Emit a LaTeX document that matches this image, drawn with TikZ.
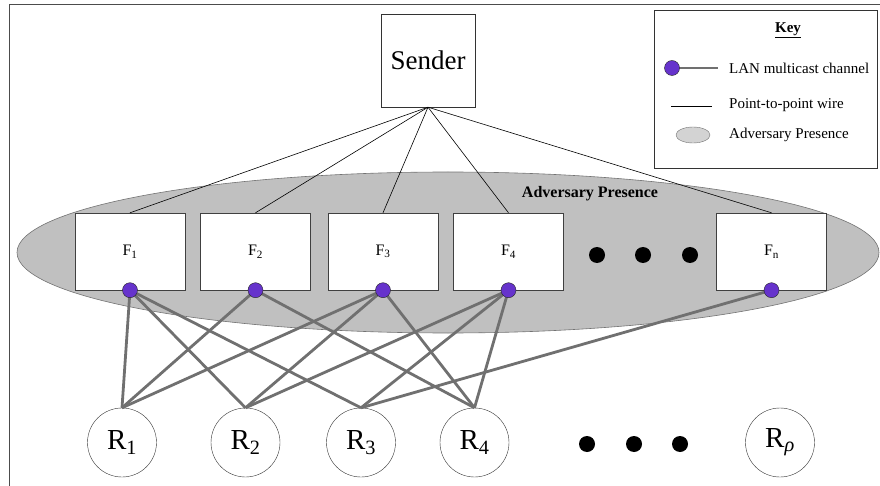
\documentclass[tikz,border=0pt]{standalone}
\usepackage{fontspec}
\setmainfont{Liberation Serif}
\usetikzlibrary{calc,shapes.geometric}
\definecolor{lanpurple}{RGB}{102,51,204}
\definecolor{advgray}{RGB}{192,192,192}
\definecolor{langray}{RGB}{112,112,112}

\begin{document}
\begin{tikzpicture}[x=1pt,y=-1pt,
    fwd/.style={draw=black!75,fill=white,minimum width=110pt,minimum height=77pt,inner sep=0pt,font=\fontsize{16}{18}\selectfont},
    rcv/.style={circle,draw=black!80,fill=white,minimum size=69pt,inner sep=0pt,font=\fontsize{29}{31}\selectfont},
    chan/.style={circle,draw=black!85,fill=lanpurple,minimum size=15pt,inner sep=0pt},
    lan/.style={draw=langray,line width=2.8pt},
    wire/.style={draw=black,line width=0.6pt},
    bigdot/.style={circle,fill=black,minimum size=16pt,inner sep=0pt},
    keytext/.style={anchor=west,inner sep=0pt,font=\fontsize{15}{17}\selectfont}]
    \useasboundingbox (0,0) rectangle (880,486);
    \draw[black!70,line width=1pt] (9,486) -- (9,4.5) -- (880,4.5);

    % adversary region
    \filldraw[fill=advgray,draw=black!55,line width=0.6pt] (448,252.5) ellipse [x radius=431,y radius=80.5];
    \node[font=\fontsize{16}{18}\selectfont\bfseries] (advlabel) at (590,194) {Adversary Presence};

    % sender and forwarders
    \node[draw=black!80,fill=white,minimum width=94pt,minimum height=93pt,inner sep=0pt,font=\fontsize{27}{29}\selectfont] (sender) at (428,60.5) {Sender};
    \node[fwd] (f1) at (130,251.5) {F\textsubscript{1}};
    \node[fwd] (f2) at (255.5,251.5) {F\textsubscript{2}};
    \node[fwd] (f3) at (383,251.5) {F\textsubscript{3}};
    \node[fwd] (f4) at (508.5,251.5) {F\textsubscript{4}};
    \node[fwd] (fn) at (771.5,251.5) {F\textsubscript{n}};
    \node[bigdot] (fdot1) at (597,255) {};
    \node[bigdot] (fdot2) at (643,255) {};
    \node[bigdot] (fdot3) at (690,255) {};

    \draw[wire] (sender.south) -- (f1.north);
    \draw[wire] (sender.south) -- (f2.north);
    \draw[wire] (sender.south) -- (f3.north);
    \draw[wire] (sender.south) -- (f4.north);
    \draw[wire] (sender.south) -- (fn.north);

    % receivers
    \node[rcv] (r1) at (122,442.5) {R\textsubscript{1}};
    \node[rcv] (r2) at (245.5,442.5) {R\textsubscript{2}};
    \node[rcv] (r3) at (361,442.5) {R\textsubscript{3}};
    \node[rcv] (r4) at (474.5,442.5) {R\textsubscript{4}};
    \node[rcv] (rp) at (780,442.5) {R\textsubscript{\textit{ρ}}};
    \node[bigdot] (rdot1) at (587,444) {};
    \node[bigdot] (rdot2) at (634,444) {};
    \node[bigdot] (rdot3) at (680,444) {};

    % multicast channels
    \draw[lan] (f1.south) -- (r1.north);
    \draw[lan] (f1.south) -- (r2.north);
    \draw[lan] (f1.south) -- (r3.north);
    \draw[lan] (f2.south) -- (r1.north);
    \draw[lan] (f2.south) -- (r4.north);
    \draw[lan] (f3.south) -- (r1.north);
    \draw[lan] (f3.south) -- (r2.north);
    \draw[lan] (f3.south) -- (r4.north);
    \draw[lan] (f4.south) -- (r2.north);
    \draw[lan] (f4.south) -- (r3.north);
    \draw[lan] (f4.south) -- (r4.north);
    \draw[lan] (fn.south) -- (r3.north);
    \node[chan] (c1) at (f1.south) {};
    \node[chan] (c2) at (f2.south) {};
    \node[chan] (c3) at (f3.south) {};
    \node[chan] (c4) at (f4.south) {};
    \node[chan] (cn) at (fn.south) {};

    % key
    \node[draw=black!80,fill=white,minimum width=223pt,minimum height=158pt,inner sep=0pt] (key) at (765.5,89) {};
    \node[font=\fontsize{15}{17}\selectfont\bfseries] (keytitle) at (788,30) {\underline{Key}};
    \coordinate (keylanend) at (718,68);
    \draw[lan] (672,68) -- (keylanend);
    \node[chan] (keydot) at (672,68) {};
    \node[keytext] (keylan) at (729,68) {LAN multicast channel};
    \coordinate (keywirea) at (671,106);
    \coordinate (keywireb) at (712,106);
    \draw[wire] (keywirea) -- (keywireb);
    \node[keytext] (keywire) at (729,105) {Point-to-point wire};
    \node[ellipse,draw=black!55,fill=advgray!70!white,minimum width=34pt,minimum height=16pt,inner sep=0pt] (keyadv) at (693,135) {};
    \node[keytext] (keyadvtext) at (729,135) {Adversary Presence};
\end{tikzpicture}
\end{document}
